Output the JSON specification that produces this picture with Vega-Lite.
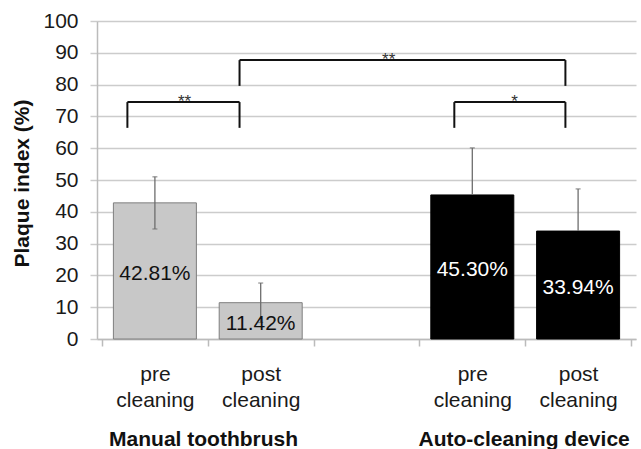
{
  "$schema": "https://vega.github.io/schema/vega-lite/v6.json",
  "width": 539,
  "height": 318,
  "autosize": {"type": "none"},
  "padding": {"left": 97, "top": 21, "right": 5, "bottom": 110},
  "background": "white",
  "config": {
    "view": {"stroke": null},
    "font": "Liberation Sans"
  },
  "datasets": {
    "bars": [
      {"group": "Manual toothbrush", "phase": "pre cleaning", "pos": 0.5, "value": 42.81, "lo": 34.6, "hi": 51.0, "label": "42.81%"},
      {"group": "Manual toothbrush", "phase": "post cleaning", "pos": 1.5, "value": 11.42, "lo": 5.2, "hi": 17.6, "label": "11.42%"},
      {"group": "Auto-cleaning device", "phase": "pre cleaning", "pos": 3.5, "value": 45.30, "lo": 45.30, "hi": 60.1, "label": "45.30%"},
      {"group": "Auto-cleaning device", "phase": "post cleaning", "pos": 4.5, "value": 33.94, "lo": 33.94, "hi": 47.2, "label": "33.94%"}
    ],
    "brackets": [
      {"left": 0.24, "right": 1.30, "top": 74.5, "bottom": 66.4, "starPos": 0.78, "stars": "**"},
      {"left": 1.30, "right": 4.38, "top": 87.7, "bottom": 79.6, "starPos": 2.71, "stars": "**"},
      {"left": 3.33, "right": 4.38, "top": 74.5, "bottom": 66.4, "starPos": 3.90, "stars": "*"}
    ],
    "groups": [
      {"group": "Manual toothbrush", "center": 0.96},
      {"group": "Auto-cleaning device", "center": 3.99}
    ]
  },
  "resolve": {"axis": {"x": "independent", "y": "independent"}},
  "layer": [
    {
      "data": {"name": "bars"},
      "mark": {"type": "bar", "width": 83, "orient": "vertical", "strokeWidth": 1},
      "encoding": {
        "x": {
          "field": "pos", "type": "quantitative",
          "scale": {"domain": [0, 5], "nice": false, "zero": false},
          "axis": {
            "values": [0, 0.5, 1, 1.5, 2, 2.5, 3, 3.5, 4, 4.5, 5],
            "labelExpr": "(datum.value == 0.5 || datum.value == 3.5) ? ['pre', 'cleaning'] : ((datum.value == 1.5 || datum.value == 4.5) ? ['post', 'cleaning'] : '')",
            "tickOpacity": {"condition": {"test": "datum.value % 1 != 0", "value": 0}, "value": 1},
            "grid": false, "title": null,
            "domainColor": "#bbbbbb", "domainWidth": 1.5,
            "tickColor": "#bbbbbb", "tickSize": 7, "tickWidth": 1.5,
            "labelFontSize": 21, "labelColor": "#1a1a1a", "labelPadding": 17,
            "labelLineHeight": 26, "labelOverlap": false, "labelBound": false, "labelFlush": false
          }
        },
        "y": {
          "field": "value", "type": "quantitative", "stack": null,
          "scale": {"domain": [0, 100], "nice": false},
          "axis": {
            "values": [0, 10, 20, 30, 40, 50, 60, 70, 80, 90, 100],
            "labelOverlap": false, "labelFlush": false, "labelBound": false,
            "title": "Plaque index (%)", "titleFontSize": 21, "titleFontWeight": "bold",
            "titleColor": "#111111", "titleX": -69, "titleY": 162, "titleAngle": -90,
            "titleBaseline": "alphabetic", "titleAlign": "center",
            "grid": true, "gridColor": "#cccccc", "gridWidth": 1.5,
            "tickColor": "#cccccc", "tickSize": 7, "tickWidth": 1.5,
            "domainColor": "#bbbbbb", "domainWidth": 1.5,
            "labelFontSize": 21, "labelPadding": 12, "labelColor": "#1a1a1a"
          }
        },
        "fill": {"condition": {"test": "datum.group === 'Manual toothbrush'", "value": "#c8c8c8"}, "value": "#000000"},
        "stroke": {"condition": {"test": "datum.group === 'Manual toothbrush'", "value": "#7f7f7f"}, "value": "#000000"}
      }
    },
    {
      "data": {"name": "bars"},
      "mark": {"type": "rule", "color": "#6d6d6d", "strokeWidth": 1.3},
      "encoding": {
        "x": {"field": "pos", "type": "quantitative", "axis": null},
        "y": {"field": "lo", "type": "quantitative", "axis": null},
        "y2": {"field": "hi"}
      }
    },
    {
      "data": {"name": "bars"},
      "mark": {"type": "tick", "orient": "horizontal", "size": 5, "thickness": 1.3, "color": "#6d6d6d"},
      "encoding": {
        "x": {"field": "pos", "type": "quantitative", "axis": null},
        "y": {"field": "hi", "type": "quantitative", "axis": null}
      }
    },
    {
      "data": {"name": "bars"},
      "transform": [{"filter": "datum.lo < datum.value"}],
      "mark": {"type": "tick", "orient": "horizontal", "size": 5, "thickness": 1.3, "color": "#6d6d6d"},
      "encoding": {
        "x": {"field": "pos", "type": "quantitative", "axis": null},
        "y": {"field": "lo", "type": "quantitative", "axis": null}
      }
    },
    {
      "data": {"name": "bars"},
      "transform": [{"calculate": "datum.value / 2", "as": "mid"}],
      "mark": {"type": "text", "fontSize": 21, "baseline": "middle", "align": "center", "dy": 3},
      "encoding": {
        "x": {"field": "pos", "type": "quantitative", "axis": null},
        "y": {"field": "mid", "type": "quantitative", "axis": null},
        "text": {"field": "label"},
        "color": {"condition": {"test": "datum.group === 'Manual toothbrush'", "value": "#111111"}, "value": "#ffffff"}
      }
    },
    {
      "data": {"name": "brackets"},
      "mark": {"type": "rule", "color": "#111111", "strokeWidth": 2},
      "encoding": {
        "x": {"field": "left", "type": "quantitative", "axis": null},
        "x2": {"field": "right"},
        "y": {"field": "top", "type": "quantitative", "axis": null}
      }
    },
    {
      "data": {"name": "brackets"},
      "mark": {"type": "rule", "color": "#111111", "strokeWidth": 2},
      "encoding": {
        "x": {"field": "left", "type": "quantitative", "axis": null},
        "y": {"field": "bottom", "type": "quantitative", "axis": null},
        "y2": {"field": "top"}
      }
    },
    {
      "data": {"name": "brackets"},
      "mark": {"type": "rule", "color": "#111111", "strokeWidth": 2},
      "encoding": {
        "x": {"field": "right", "type": "quantitative", "axis": null},
        "y": {"field": "bottom", "type": "quantitative", "axis": null},
        "y2": {"field": "top"}
      }
    },
    {
      "data": {"name": "brackets"},
      "mark": {"type": "text", "fontSize": 17, "baseline": "alphabetic", "align": "center", "dy": 5, "color": "#333333"},
      "encoding": {
        "x": {"field": "starPos", "type": "quantitative", "axis": null},
        "y": {"field": "top", "type": "quantitative", "axis": null},
        "text": {"field": "stars"}
      }
    },
    {
      "data": {"name": "groups"},
      "mark": {"type": "text", "fontSize": 21, "fontWeight": "bold", "baseline": "alphabetic", "align": "center", "color": "#111111", "clip": false},
      "encoding": {
        "x": {"field": "center", "type": "quantitative", "axis": null},
        "y": {"datum": -33.5, "type": "quantitative", "axis": null},
        "text": {"field": "group"}
      }
    }
  ]
}
